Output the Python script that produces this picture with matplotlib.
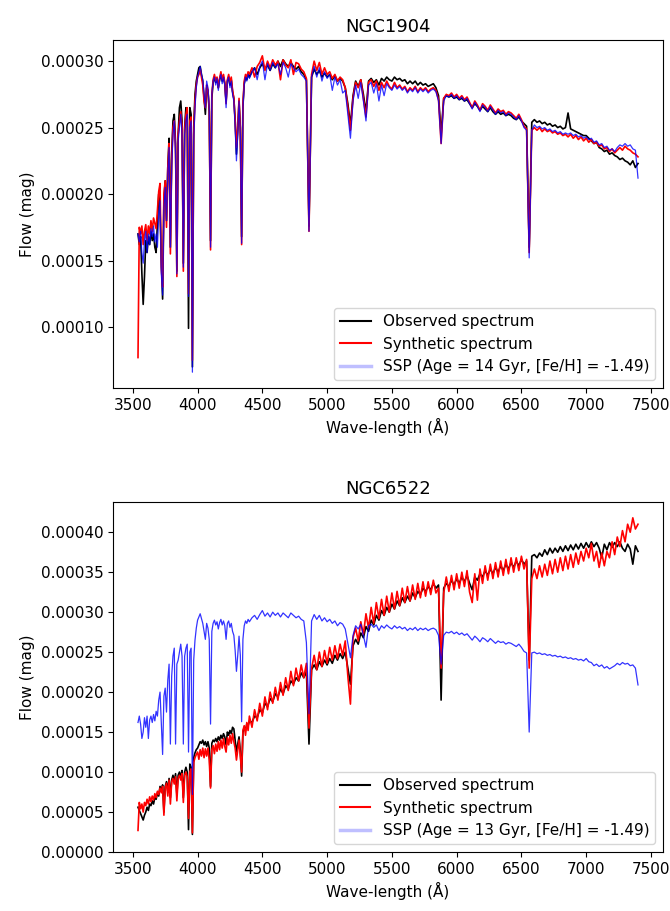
import numpy as np
import matplotlib
matplotlib.use("Agg")
import matplotlib.pyplot as plt
from matplotlib.lines import Line2D

# ----- espectros (flujo en unidades de 1e-7) -----
# rejilla: 3540-4390 cada 10 A, 4400-7400 cada 20 A
wave = np.concatenate([np.arange(3540, 4400, 10), np.arange(4400, 7401, 20)])
escala = 1e-7

# NGC1904
obs_1904 = [
    1700, 1620, 1680, 1400, 1170, 1380, 1650, 1560, 1680, 1620,
    1720, 1650, 1700, 1600, 1560, 1780, 2000, 1900, 1500, 1210,
    1950, 2100, 1800, 2200, 2420, 1600, 2300, 2550, 2600, 2380,
    1420, 2450, 2650, 2700, 2550, 1480, 2500, 2650, 2620, 990,
    2650, 2600, 700, 2500, 2750, 2850, 2900, 2950, 2960, 2900,
    2850, 2720, 2600, 2800, 2780, 2620, 1650, 2720, 2840, 2880,
    2840, 2870, 2800, 2860, 2900, 2850, 2880, 2830, 2700, 2850,
    2880, 2820, 2860, 2770, 2720, 2560, 2300, 2480, 2700, 2500,
    1680, 2660, 2830, 2880, 2860, 2900,
    2880, 2920, 2950, 2900, 2950, 2980, 2940, 2970, 2930, 2980,
    2950, 3000, 2960, 3010, 2980, 2960, 2990, 2960, 2940, 2960,
    2920, 2900, 2860, 1760, 2880, 2940, 2900, 2930, 2880, 2910,
    2880, 2900, 2860, 2890, 2850, 2870, 2850, 2800, 2680, 2520,
    2740, 2850, 2810, 2860, 2750, 2620, 2850, 2870, 2840, 2860,
    2820, 2870, 2850, 2880, 2860, 2850, 2880, 2860, 2870, 2850,
    2860, 2830, 2850, 2830, 2850, 2820, 2840, 2820, 2830, 2810,
    2820, 2830, 2800, 2740, 2450, 2720, 2740, 2730, 2740, 2720,
    2730, 2710, 2720, 2700, 2710, 2680, 2650, 2680, 2660, 2630,
    2660, 2640, 2620, 2650, 2620, 2600, 2620, 2600, 2610, 2590,
    2600, 2590, 2570, 2560, 2580, 2550, 2530, 2510, 1600, 2540,
    2560, 2540, 2550, 2530, 2540, 2520, 2530, 2510, 2520, 2500,
    2510, 2490, 2500, 2610, 2490, 2480, 2470, 2460, 2450, 2440,
    2440, 2420, 2400, 2380, 2390, 2350, 2340, 2320, 2330, 2300,
    2310, 2290, 2280, 2260, 2270, 2250, 2240, 2220, 2250, 2200,
    2230,
]
syn_1904 = [
    770, 1750, 1700, 1760, 1620, 1720, 1770, 1650, 1760, 1700,
    1800, 1720, 1820, 1780, 1740, 1880, 2020, 2080, 1450, 1300,
    2000, 2100, 1750, 2200, 2380, 1550, 2250, 2500, 2550, 2350,
    1380, 2450, 2550, 2620, 2500, 1420, 2480, 2600, 2650, 1250,
    2550, 2580, 750, 2450, 2700, 2820, 2880, 2900, 2940, 2880,
    2820, 2700, 2650, 2820, 2780, 2640, 1580, 2750, 2860, 2900,
    2850, 2880, 2800, 2870, 2920, 2860, 2900, 2840, 2680, 2860,
    2900, 2840, 2880, 2780, 2720, 2550, 2350, 2500, 2720, 2480,
    1620, 2680, 2850, 2900, 2880, 2920,
    2900, 2950, 2880, 2960, 2990, 3040, 2930, 3000, 2950, 3010,
    2970, 3000, 2860, 3010, 2970, 2950, 3010, 2900, 2990, 2980,
    2940, 2920, 2870, 1720, 2900, 3000, 2930, 2990, 2900, 2950,
    2900, 2920, 2870, 2900, 2850, 2880, 2860, 2800, 2650, 2480,
    2720, 2840, 2800, 2860, 2720, 2580, 2840, 2860, 2810, 2850,
    2780, 2840, 2800, 2850, 2810, 2790, 2840, 2800, 2820, 2790,
    2810, 2770, 2800, 2780, 2810, 2770, 2800, 2780, 2800, 2770,
    2790, 2800, 2780, 2710, 2380, 2720, 2750, 2740, 2760, 2730,
    2750, 2720, 2740, 2710, 2730, 2690, 2650, 2700, 2670, 2630,
    2680, 2660, 2630, 2670, 2640, 2610, 2640, 2620, 2630, 2600,
    2620, 2610, 2590, 2570, 2600, 2560, 2510, 2490, 1560, 2480,
    2500, 2480, 2500, 2470, 2490, 2470, 2480, 2460, 2470, 2450,
    2460, 2440, 2450, 2430, 2450, 2420, 2440, 2410, 2430, 2400,
    2420, 2390, 2410, 2380, 2390, 2360, 2370, 2340, 2350, 2320,
    2340, 2310, 2330, 2350, 2330, 2360, 2340, 2330, 2310, 2300,
    2280,
]
ssp_1904 = [
    1700, 1640, 1720, 1560, 1480, 1650, 1720, 1560, 1700, 1620,
    1740, 1680, 1760, 1640, 1700, 1600, 1840, 1950, 1400, 1240,
    1900, 2050, 1800, 2150, 2350, 1600, 2200, 2450, 2550, 2300,
    1400, 2400, 2500, 2600, 2450, 1450, 2450, 2550, 2600, 1230,
    2500, 2550, 660, 2400, 2650, 2800, 2880, 2920, 2960, 2900,
    2860, 2750, 2650, 2850, 2800, 2650, 1600, 2750, 2850, 2880,
    2820, 2870, 2780, 2860, 2900, 2830, 2880, 2820, 2650, 2850,
    2880, 2800, 2850, 2750, 2700, 2500, 2250, 2450, 2700, 2450,
    1630, 2650, 2820, 2880, 2850, 2900,
    2870, 2920, 2950, 2860, 2960, 3000, 2860, 2980, 2930, 2990,
    2950, 2980, 2900, 2990, 2950, 2880, 2980, 2950, 2920, 2940,
    2900, 2880, 2850, 1720, 2880, 2960, 2880, 2950, 2850, 2920,
    2870, 2900, 2780, 2880, 2820, 2860, 2760, 2780, 2600, 2420,
    2700, 2820, 2720, 2840, 2700, 2550, 2820, 2840, 2760, 2830,
    2700, 2820, 2740, 2830, 2800, 2780, 2820, 2790, 2810, 2780,
    2800, 2760, 2790, 2770, 2800, 2760, 2790, 2770, 2790, 2760,
    2780, 2790, 2770, 2700, 2380, 2700, 2740, 2730, 2750, 2720,
    2740, 2710, 2730, 2700, 2720, 2680, 2640, 2690, 2660, 2620,
    2670, 2650, 2620, 2660, 2630, 2600, 2630, 2610, 2620, 2590,
    2610, 2600, 2580, 2560, 2590, 2550, 2500, 2480, 1520, 2480,
    2520, 2500, 2510, 2490, 2500, 2480, 2490, 2470, 2480, 2460,
    2470, 2450, 2460, 2450, 2460, 2440, 2450, 2430, 2440, 2420,
    2430, 2410, 2420, 2390, 2400, 2370, 2380, 2350, 2360, 2330,
    2340, 2320, 2350, 2370, 2360, 2380, 2360, 2370, 2340, 2330,
    2120,
]

# NGC6522
obs_6522 = [
    560, 520, 480, 440, 400, 460, 500, 560, 520, 600,
    580, 640, 600, 680, 660, 740, 700, 820, 760, 840,
    500, 820, 880, 760, 920, 680, 900, 960, 880, 980,
    720, 960, 1000, 940, 1020, 680, 1000, 1060, 1000, 280,
    1100, 1060, 220, 1180, 1240, 1280, 1300, 1340, 1380, 1360,
    1400, 1340, 1380, 1320, 1380, 1300, 820, 1360, 1400, 1380,
    1420, 1380, 1440, 1400, 1460, 1420, 1480, 1440, 1340, 1500,
    1460, 1520, 1480, 1560, 1540, 1400, 1250, 1350, 1440, 1260,
    950, 1500, 1560, 1520, 1600, 1580,
    1640, 1620, 1700, 1680, 1780, 1740, 1860, 1820, 1920, 1880,
    1980, 1940, 2040, 1980, 2080, 2040, 2140, 2100, 2180, 2140,
    2240, 2180, 2260, 1350, 2280, 2340, 2280, 2380, 2320, 2400,
    2340, 2420, 2360, 2460, 2400, 2480, 2420, 2500, 2300, 2100,
    2580, 2660, 2600, 2740, 2680, 2820, 2760, 2900, 2840, 2960,
    2900, 3020, 2960, 3060, 3000, 3100, 3040, 3140, 3080, 3180,
    3120, 3200, 3140, 3240, 3180, 3260, 3220, 3300, 3260, 3320,
    3280, 3360, 3300, 3340, 1900, 3300, 3360, 3320, 3400, 3340,
    3420, 3360, 3440, 3380, 3460, 3360, 3280, 3440, 3400, 3480,
    3440, 3520, 3460, 3540, 3480, 3560, 3500, 3580, 3520, 3600,
    3540, 3620, 3560, 3640, 3580, 3660, 3600, 3640, 2400, 3700,
    3720, 3680, 3740, 3700, 3780, 3720, 3800, 3740, 3800, 3750,
    3820, 3760, 3830, 3770, 3840, 3780, 3850, 3790, 3860, 3800,
    3870, 3810, 3880, 3820, 3870, 3800, 3680, 3850, 3780, 3870,
    3810, 3870, 3820, 3880, 3800, 3760, 3850, 3790, 3600, 3830,
    3760,
]
syn_6522 = [
    270, 620, 540, 600, 500, 620, 580, 660, 600, 690,
    630, 700, 650, 730, 680, 760, 720, 800, 740, 820,
    460, 800, 860, 700, 900, 600, 880, 920, 850, 940,
    640, 920, 960, 900, 980, 620, 960, 1000, 940, 420,
    1000, 1040, 240, 1120, 1180, 1220, 1250, 1160, 1280, 1200,
    1300, 1180, 1290, 1200, 1300, 1150, 800, 1280, 1330, 1230,
    1350, 1260, 1380, 1280, 1400, 1300, 1420, 1320, 1250, 1430,
    1340, 1460, 1360, 1480, 1380, 1300, 1150, 1280, 1400, 1200,
    1000, 1520, 1580, 1460, 1620, 1520,
    1700, 1560, 1780, 1640, 1860, 1700, 1940, 1780, 2000, 1860,
    2060, 1900, 2120, 1960, 2180, 2020, 2260, 2080, 2300, 2140,
    2340, 2180, 2360, 1550, 2300, 2460, 2280, 2500, 2320, 2520,
    2360, 2560, 2400, 2580, 2420, 2600, 2460, 2640, 2200, 1850,
    2680, 2800, 2640, 2880, 2720, 2980, 2800, 3060, 2860, 3120,
    2920, 3160, 2960, 3200, 3000, 3240, 3040, 3260, 3080, 3300,
    3120, 3320, 3140, 3340, 3160, 3360, 3180, 3380, 3200, 3380,
    3220, 3400, 3240, 3300, 2300, 3240, 3440, 3260, 3460, 3280,
    3480, 3300, 3500, 3320, 3520, 3250, 3120, 3480, 3150, 3540,
    3360, 3580, 3400, 3600, 3420, 3620, 3440, 3640, 3460, 3660,
    3480, 3680, 3500, 3680, 3520, 3700, 3540, 3660, 2300, 3420,
    3540, 3420, 3580, 3440, 3600, 3460, 3640, 3480, 3660, 3500,
    3680, 3520, 3700, 3540, 3720, 3560, 3740, 3600, 3760, 3640,
    3800, 3680, 3860, 3640, 3760, 3560, 3740, 3580, 3760, 3680,
    3880, 3720, 3940, 3820, 4020, 3880, 4100, 4000, 4180, 4040,
    4100,
]
ssp_6522 = [
    1620, 1700, 1600, 1420, 1500, 1680, 1560, 1700, 1420, 1650,
    1700, 1620, 1720, 1640, 1760, 1700, 1900, 2000, 1600, 1220,
    1950, 2050, 1750, 2150, 2350, 1350, 2200, 2450, 2550, 1350,
    2350, 2400, 2500, 2600, 2450, 1350, 2450, 2550, 2600, 1250,
    2500, 2550, 720, 2400, 2650, 2800, 2900, 2940, 2980, 2920,
    2860, 2760, 2660, 2860, 2800, 2660, 1600, 2760, 2860, 2900,
    2840, 2880, 2790, 2870, 2910, 2840, 2890, 2830, 2660, 2860,
    2890, 2810, 2860, 2760, 2710, 2520, 2260, 2460, 2700, 2460,
    1630, 2660, 2830, 2890, 2860, 2910,
    2880, 2930, 2960, 2910, 2970, 3020, 2950, 2990, 2940, 3000,
    2960, 2990, 2940, 2990, 2960, 2930, 2990, 2960, 2930, 2950,
    2910, 2890, 2620, 1730, 2890, 2970, 2910, 2960, 2890, 2930,
    2880, 2910, 2860, 2890, 2830, 2870, 2850, 2790, 2610, 2430,
    2710, 2830, 2790, 2850, 2710, 2560, 2830, 2850, 2810, 2840,
    2770, 2830, 2800, 2840, 2810, 2790, 2830, 2800, 2820, 2790,
    2810, 2770, 2800, 2780, 2810, 2770, 2800, 2780, 2800, 2770,
    2790, 2800, 2780, 2710, 2350, 2710, 2750, 2740, 2760, 2730,
    2750, 2720, 2740, 2710, 2730, 2690, 2650, 2700, 2670, 2630,
    2680, 2660, 2630, 2670, 2640, 2610, 2640, 2620, 2630, 2600,
    2620, 2610, 2590, 2570, 2600, 2560, 2510, 2490, 1500, 2490,
    2500, 2480, 2490, 2470, 2480, 2460, 2470, 2450, 2460, 2440,
    2450, 2430, 2440, 2420, 2430, 2410, 2420, 2400, 2410, 2390,
    2420, 2380, 2370, 2330, 2350, 2320, 2340, 2300, 2320, 2290,
    2310, 2330, 2360, 2340, 2370, 2350, 2360, 2330, 2340, 2300,
    2090,
]

paneles = [
    ("NGC1904", obs_1904, syn_1904, ssp_1904, "SSP (Age = 14 Gyr, [Fe/H] = -1.49)"),
    ("NGC6522", obs_6522, syn_6522, ssp_6522, "SSP (Age = 13 Gyr, [Fe/H] = -1.49)"),
]

plt.rcParams['font.size'] = 11

fig = plt.figure(figsize=(6.7, 9.11), dpi=100)
ax1 = fig.add_axes([113/670, 1-388/911, 550/670, 348/911])
ax2 = fig.add_axes([113/670, 1-852/911, 550/670, 350/911])

for ax, (nombre, obs, syn, ssp, etiqueta) in zip([ax1, ax2], paneles):
    for serie in (obs, syn, ssp):
        assert len(serie) == len(wave), (nombre, len(serie), len(wave))
    ax.plot(wave, np.array(obs)*escala, color='black', lw=1.2)
    ax.plot(wave, np.array(syn)*escala, color='red', lw=1.2)
    ax.plot(wave, np.array(ssp)*escala, color='blue', lw=0.9, alpha=0.8)
    ax.set_title(nombre, fontsize=13)
    ax.set_xlabel("Wave-length (Å)")
    ax.set_ylabel("Flow (mag)")
    ax.set_xticks(np.arange(3500, 7501, 500))
    handles = [Line2D([], [], color='black', lw=1.5),
               Line2D([], [], color='red', lw=1.5),
               Line2D([], [], color='blue', lw=2.5, alpha=0.25)]
    ax.legend(handles, ["Observed spectrum", "Synthetic spectrum", etiqueta], loc='lower right')

ax2.set_ylim(bottom=0)

plt.savefig("out.png")
